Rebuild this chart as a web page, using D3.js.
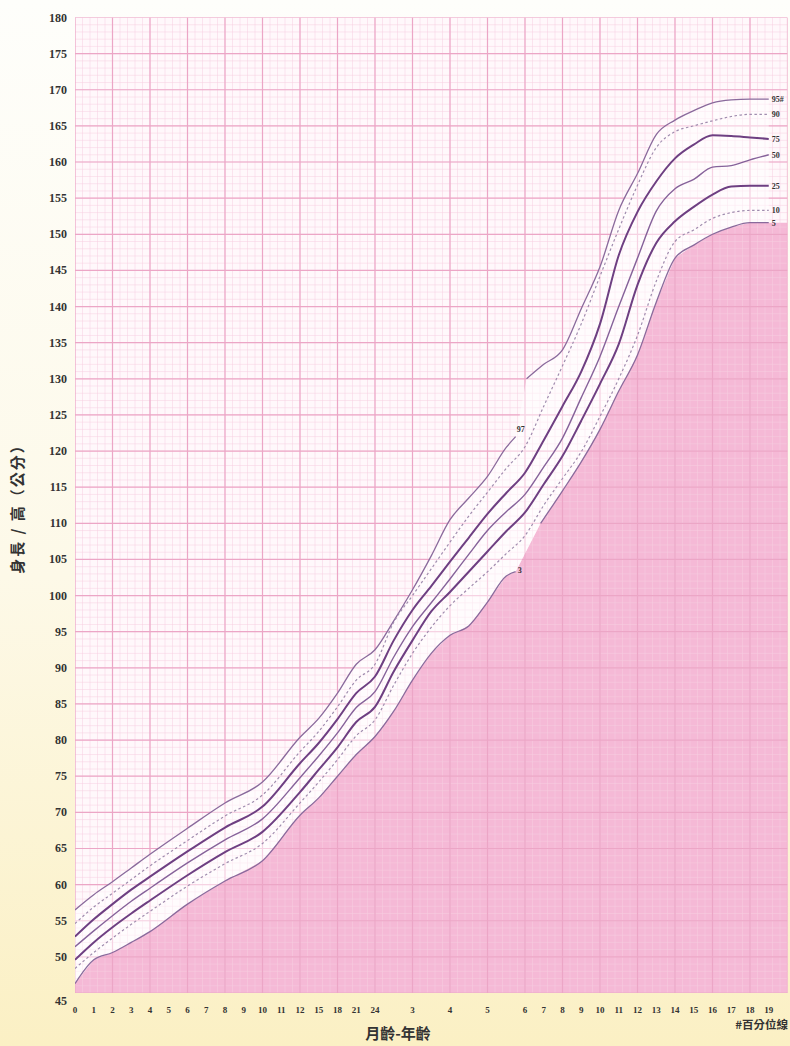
<!doctype html>
<html>
<head>
<meta charset="utf-8">
<script src="https://cdnjs.cloudflare.com/ajax/libs/d3/7.8.5/d3.min.js"></script>
<style>
  body { margin: 0; }
  svg text { font-family: "Liberation Serif", "DejaVu Serif", serif; font-weight: bold; fill: #333; }
</style>
</head>
<body>
<svg id="chart" width="790" height="1046"></svg>
<script>
// ages in months
var tickAges = [0,1,2,3,4,5,6,7,8,9,10,11,12,15,18,21,24,36,48,60,72,84,96,108,120,132,144,156,168,180,192,204,216,228];
var tickLabels = ["0","1","2","3","4","5","6","7","8","9","10","11","12","15","18","21","24","3","4","5","6","7","8","9","10","11","12","13","14","15","16","17","18","19"];
var yTicks = d3.range(45, 181, 5);

// 0 - 5.75 y : 97th and 3rd
var earlyAges = [0, 1, 2, 3, 4, 6, 8, 10, 12, 15, 18, 21, 24, 30, 36, 42, 48, 54, 60, 66, 69];
var p97 = [56.5, 58.6, 60.4, 62.3, 64.2, 67.8, 71.3, 74.2, 80.4, 83.0, 86.5, 90.5, 92.5, 96.5, 100.8, 105.5, 110.5, 113.5, 116.5, 120.5, 122.0];
var p3  = [46.3, 49.6, 50.6, 52.0, 53.5, 57.3, 60.5, 63.3, 69.6, 72.0, 75.0, 78.0, 80.5, 84.0, 88.3, 92.0, 94.5, 95.8, 99.1, 102.7, 103.3];

// whole range : 90, 75, 50, 25, 10
var allAges = [0, 1, 2, 3, 4, 6, 8, 10, 12, 15, 18, 21, 24, 30, 36, 42, 48, 54, 60, 66, 72, 84, 96, 108, 120, 132, 144, 156, 168, 180, 192, 204, 216, 228];
var p90 = [54.6, 56.9, 58.8, 60.7, 62.6, 66.1, 69.5, 72.4, 78.4, 81.2, 84.6, 88.3, 90.5, 96.3, 100.0, 103.7, 107.4, 111.0, 114.3, 117.6, 120.6, 126.2, 131.8, 137.6, 144.2, 150.7, 156.8, 162.0, 164.2, 165.0, 165.7, 166.3, 166.6, 166.6];
var p75 = [52.8, 55.2, 57.3, 59.3, 61.1, 64.6, 67.9, 70.8, 76.8, 79.6, 82.9, 86.5, 88.8, 93.8, 98.0, 101.3, 104.7, 108.0, 111.3, 114.2, 117.0, 121.5, 126.2, 131.0, 137.6, 147.1, 153.1, 157.3, 160.5, 162.4, 163.7, 163.6, 163.4, 163.2];
var p50 = [51.4, 53.6, 55.7, 57.7, 59.5, 63.0, 66.2, 69.1, 74.8, 77.8, 81.0, 84.5, 86.7, 91.5, 95.7, 99.0, 102.3, 105.7, 109.0, 111.6, 114.0, 117.8, 121.8, 127.4, 133.1, 140.0, 146.7, 153.2, 156.3, 157.6, 159.3, 159.5, 160.3, 161.0];
var p25 = [49.6, 52.0, 54.1, 56.0, 57.8, 61.3, 64.5, 67.3, 72.8, 75.9, 79.0, 82.5, 84.6, 89.5, 93.8, 97.8, 100.5, 103.3, 106.1, 108.9, 111.5, 115.4, 119.3, 124.2, 129.3, 134.8, 143.0, 148.8, 151.8, 153.8, 155.5, 156.6, 156.7, 156.7];
var p10 = [48.4, 50.6, 52.6, 54.5, 56.3, 59.8, 62.9, 65.7, 71.3, 74.2, 77.3, 80.6, 82.8, 87.6, 92.0, 95.6, 98.6, 101.0, 103.3, 105.8, 108.3, 112.5, 116.2, 119.9, 124.8, 130.0, 136.0, 143.5, 149.0, 150.6, 152.2, 153.0, 153.3, 153.3];

// 6 - 19 y : 95th and 5th
var lateAges95 = [73, 84, 96, 108, 120, 132, 144, 156, 168, 180, 192, 204, 216, 228];
var p95 = [130.0, 132.0, 134.0, 139.7, 145.5, 153.3, 158.4, 163.8, 165.8, 167.1, 168.2, 168.6, 168.7, 168.7];
var lateAges5 = [82, 96, 108, 120, 132, 144, 156, 168, 180, 192, 204, 216, 228];
var p5  = [110.0, 114.5, 118.5, 123.0, 128.3, 133.3, 140.6, 146.7, 148.5, 150.0, 151.0, 151.6, 151.6];

var rightLabels = ["95#", "90", "75", "50", "25", "10", "5"];

var svg = d3.select("#chart");
var W = 790, H = 1046;
var plotL = 75, plotT = 17.5, slotW = 18.75;

var x = d3.scaleLinear()
  .domain([0, 12, 24, 72, 240])
  .range([0, 12, 16, 24, 38].map(function(s) { return plotL + s * slotW; }));
var y = d3.scaleLinear().domain([45, 180]).range([993, plotT]);
var plotR = x(240), plotB = y(45);

// page background
var defs = svg.append("defs");
var bg = defs.append("linearGradient").attr("id", "bg").attr("x1", 0).attr("x2", 0).attr("y1", 0).attr("y2", 1);
bg.append("stop").attr("offset", "0%").attr("stop-color", "#fefefb");
bg.append("stop").attr("offset", "55%").attr("stop-color", "#fdf9e8");
bg.append("stop").attr("offset", "100%").attr("stop-color", "#fbf0c4");
svg.append("rect").attr("width", W).attr("height", H).attr("fill", "url(#bg)");

defs.append("clipPath").attr("id", "plotclip").append("rect")
  .attr("x", plotL).attr("y", plotT).attr("width", plotR - plotL).attr("height", plotB - plotT);

var plot = svg.append("g").attr("clip-path", "url(#plotclip)");
plot.append("rect").attr("x", plotL).attr("y", plotT).attr("width", plotR - plotL).attr("height", plotB - plotT)
  .attr("fill", "#fff8fb");

// pink fill under the lowest percentile
var lowPts = earlyAges.map(function(a, i) { return [a, p3[i]]; })
  .concat(lateAges5.map(function(a, i) { return [a, p5[i]]; }));
lowPts.push([240, p5[p5.length - 1]]);
var area = d3.area().x(function(d) { return x(d[0]); }).y0(plotB).y1(function(d) { return y(d[1]); });
plot.append("path").datum(lowPts).attr("d", area).attr("fill", "#f5b9d6");

// grid
var minorY = d3.range(45, 181, 1), minorX = d3.range(0, 38.01, 0.4);
plot.append("g").selectAll("line").data(minorY).enter().append("line")
  .attr("x1", plotL).attr("x2", plotR).attr("y1", function(d) { return y(d); }).attr("y2", function(d) { return y(d); })
  .attr("stroke", "#f6cfe0").attr("stroke-width", 0.5);
plot.append("g").selectAll("line").data(minorX).enter().append("line")
  .attr("y1", plotT).attr("y2", plotB).attr("x1", function(d) { return plotL + d * slotW; }).attr("x2", function(d) { return plotL + d * slotW; })
  .attr("stroke", "#f6cfe0").attr("stroke-width", 0.5);
plot.append("g").selectAll("line").data(yTicks).enter().append("line")
  .attr("x1", plotL).attr("x2", plotR).attr("y1", function(d) { return y(d); }).attr("y2", function(d) { return y(d); })
  .attr("stroke", "#eca6c6").attr("stroke-width", 1.2);
plot.append("g").selectAll("line").data(d3.range(0, 39, 2)).enter().append("line")
  .attr("y1", plotT).attr("y2", plotB).attr("x1", function(d) { return plotL + d * slotW; }).attr("x2", function(d) { return plotL + d * slotW; })
  .attr("stroke", "#eca6c6").attr("stroke-width", 1.2);

// white band between outer lines
var topPts = earlyAges.map(function(a, i) { return [a, p97[i]]; })
  .concat(lateAges95.map(function(a, i) { return [a, p95[i]]; }));
var band = topPts.concat(lowPts.slice(0, -1).reverse());
plot.append("path").attr("d", "M" + band.map(function(d) { return x(d[0]) + "," + y(d[1]); }).join("L") + "Z")
  .attr("fill", "#ffffff").attr("opacity", 0.5);

// percentile lines
var line = d3.line().curve(d3.curveMonotoneX).x(function(d) { return x(d[0]); }).y(function(d) { return y(d[1]); });
function pts(ages, vals) { return ages.map(function(a, i) { return [a, vals[i]]; }); }
var series = [
  {ages: earlyAges, v: p97, w: 1.3, c: "#8a6a9c", dash: null},
  {ages: lateAges95, v: p95, w: 1.3, c: "#8a6a9c", dash: null},
  {ages: allAges, v: p90, w: 1.2, c: "#a08cae", dash: "2.5,2.5"},
  {ages: allAges, v: p75, w: 2.0, c: "#6e3f82", dash: null},
  {ages: allAges, v: p50, w: 1.4, c: "#86629a", dash: null},
  {ages: allAges, v: p25, w: 2.0, c: "#6e3f82", dash: null},
  {ages: allAges, v: p10, w: 1.2, c: "#a08cae", dash: "2.5,2.5"},
  {ages: earlyAges, v: p3, w: 1.3, c: "#8a6a9c", dash: null},
  {ages: lateAges5, v: p5, w: 1.3, c: "#8a6a9c", dash: null}
];
plot.append("g").selectAll("path").data(series).enter().append("path")
  .attr("d", function(s) { return line(pts(s.ages, s.v)); })
  .attr("fill", "none").attr("stroke", function(s) { return s.c; })
  .attr("stroke-width", function(s) { return s.w; })
  .attr("stroke-dasharray", function(s) { return s.dash; });

// labels at line ends
svg.append("text").attr("x", x(earlyAges[earlyAges.length - 1]) + 1).attr("y", y(p97[p97.length - 1]) - 5)
  .attr("font-size", 8).text("97");
svg.append("text").attr("x", x(earlyAges[earlyAges.length - 1]) + 2).attr("y", y(p3[p3.length - 1]) + 1)
  .attr("font-size", 8).text("3");
var ends = [p95, p90, p75, p50, p25, p10, p5].map(function(v) { return v[v.length - 1]; });
svg.append("g").selectAll("text").data(rightLabels).enter().append("text")
  .attr("x", x(228) + 3).attr("y", function(d, i) { return y(ends[i]) + 3; })
  .attr("font-size", 8).text(function(d) { return d; });

// axes labels
svg.append("g").selectAll("text").data(yTicks).enter().append("text")
  .attr("x", 67).attr("y", function(d) { return d === 45 ? y(d) + 12 : y(d) + 4; })
  .attr("text-anchor", "end").attr("font-size", 12).text(function(d) { return d; });
svg.append("g").selectAll("text").data(tickAges).enter().append("text")
  .attr("x", function(d) { return x(d); }).attr("y", 1013)
  .attr("text-anchor", "middle").attr("font-size", 9).text(function(d, i) { return tickLabels[i]; });

svg.append("text").attr("transform", "translate(23,505) rotate(-90)").attr("text-anchor", "middle")
  .style("font-family", "'Noto Sans CJK TC', sans-serif").style("letter-spacing", "2px")
  .attr("font-size", 15).text("身長 / 高（公分）");
svg.append("text").attr("x", 398).attr("y", 1039).attr("text-anchor", "middle")
  .style("font-family", "'Noto Sans CJK TC', sans-serif").attr("font-size", 15).text("月齡-年齡");
svg.append("text").attr("x", 788).attr("y", 1029).attr("text-anchor", "end")
  .style("font-family", "'Noto Sans CJK TC', sans-serif").attr("font-size", 11.5).text("#百分位線");
</script>
</body>
</html>
